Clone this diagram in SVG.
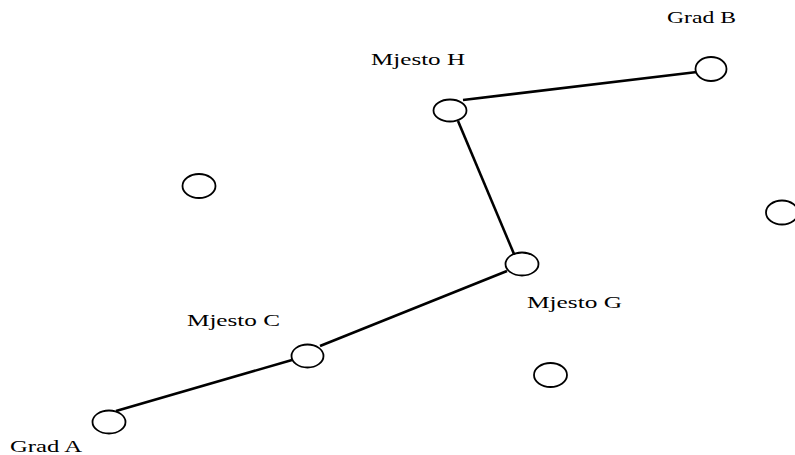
<svg xmlns="http://www.w3.org/2000/svg" width="795" height="455" viewBox="0 0 795 455">
<style>
.n{fill:#fff;stroke:#000;stroke-width:1.8}
.e{stroke:#000;stroke-width:2.6;fill:none}
.t{font-family:"Liberation Serif","Times New Roman",serif;font-size:17px;fill:#000}
</style>
<rect width="795" height="455" fill="#fff"/>
<g id="connectors">
<line class="e" x1="116" y1="411" x2="292" y2="360"/>
<line class="e" x1="320" y1="346" x2="507" y2="271"/>
<line class="e" x1="514" y1="254" x2="458" y2="121"/>
<line class="e" x1="463" y1="100" x2="697" y2="72"/>
</g>
<g id="gradA"><ellipse class="n" cx="109" cy="422" rx="16.5" ry="11.5"/><text class="t" x="10" y="452" textLength="72" lengthAdjust="spacingAndGlyphs">Grad A</text></g>
<g id="mjestoC"><ellipse class="n" cx="307.5" cy="356" rx="16" ry="11.5"/><text class="t" x="187" y="326" textLength="93" lengthAdjust="spacingAndGlyphs">Mjesto C</text></g>
<g id="mjestoG"><ellipse class="n" cx="522" cy="264" rx="16.5" ry="11.5"/><text class="t" x="527" y="308" textLength="95" lengthAdjust="spacingAndGlyphs">Mjesto G</text></g>
<g id="mjestoH"><ellipse class="n" cx="450" cy="110.5" rx="16.5" ry="11"/><text class="t" x="371" y="65" textLength="94" lengthAdjust="spacingAndGlyphs">Mjesto H</text></g>
<g id="gradB"><ellipse class="n" cx="711" cy="69" rx="15.5" ry="12"/><text class="t" x="667" y="23" textLength="69" lengthAdjust="spacingAndGlyphs">Grad B</text></g>
<g id="node1"><ellipse class="n" cx="199" cy="186" rx="16.5" ry="12"/></g>
<g id="node2"><ellipse class="n" cx="782" cy="212.5" rx="16" ry="12"/></g>
<g id="node3"><ellipse class="n" cx="550.5" cy="375" rx="16.5" ry="12"/></g>
</svg>
